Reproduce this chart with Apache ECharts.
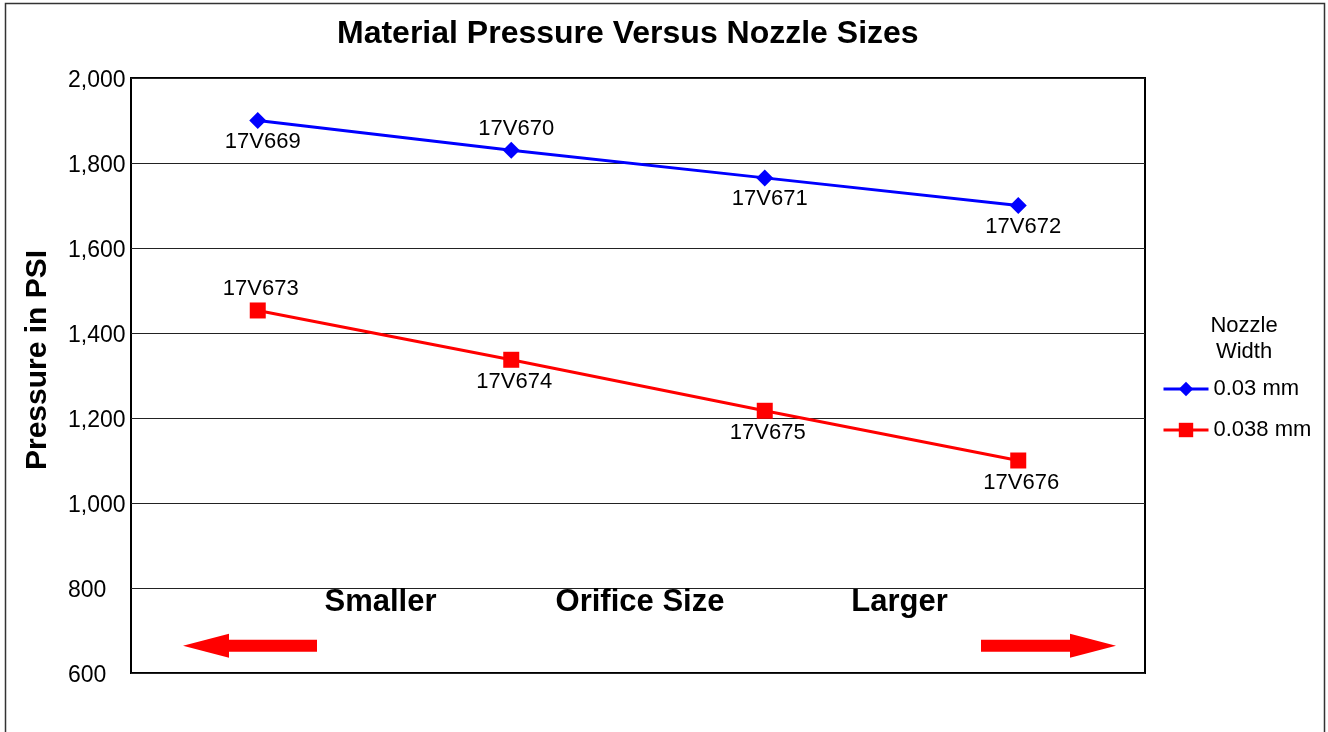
<!DOCTYPE html>
<html>
<head>
<meta charset="utf-8">
<script src="https://cdn.jsdelivr.net/npm/echarts@6/dist/echarts.min.js"></script>
<style>
  html, body { margin: 0; padding: 0; background: #fff; }
  #chart { width: 1328px; height: 732px; }
</style>
</head>
<body>
<div id="chart"></div>
<script>
// Orifice steps along the horizontal axis (smaller -> larger)
const orificeSteps = ['1', '2', '3', '4'];

// 0.03 mm nozzle width
const partsNarrow = ['17V669', '17V670', '17V671', '17V672'];
const pressureNarrow = [1900, 1830, 1765, 1700];

// 0.038 mm nozzle width
const partsWide = ['17V673', '17V674', '17V675', '17V676'];
const pressureWide = [1453, 1337, 1217, 1100];

// Pressure axis (PSI)
const yMin = 600, yMax = 2000, yStep = 200;

const FONT = '"Liberation Sans", Arial, Helvetica, sans-serif';
const BLUE = '#0000ff';
const RED = '#ff0000';

// where each part-number label sits relative to its point
const narrowLabelSide = ['bottom', 'top', 'bottom', 'bottom'];
const wideLabelSide = ['top', 'bottom', 'bottom', 'bottom'];

function withLabels(values, parts, sides) {
  return values.map((v, i) => ({
    value: v,
    label: { position: sides[i], formatter: parts[i] }
  }));
}

const chart = echarts.init(document.getElementById('chart'), null, { renderer: 'canvas' });

const option = {
  animation: false,
  backgroundColor: '#ffffff',
  textStyle: { fontFamily: FONT },
  title: {
    text: 'Material Pressure Versus Nozzle Sizes',
    left: 337,
    top: 18,
    padding: 0,
    textStyle: { fontFamily: FONT, fontSize: 32, fontWeight: 'bold', color: '#000' }
  },
  legend: {
    orient: 'vertical',
    left: 1162,
    top: 378,
    padding: 0,
    itemWidth: 45,
    itemHeight: 18,
    itemGap: 19,
    lineStyle: { width: 3 },
    textStyle: { fontFamily: FONT, fontSize: 22, color: '#000' },
    data: ['0.03 mm', '0.038 mm']
  },
  grid: {
    left: 131,
    top: 78,
    width: 1014,
    height: 595,
    show: true,
    borderColor: '#000',
    borderWidth: 2,
    backgroundColor: 'transparent'
  },
  xAxis: {
    type: 'category',
    data: orificeSteps,
    boundaryGap: true,
    axisLine: { show: false },
    axisTick: { show: false },
    axisLabel: { show: false },
    splitLine: { show: false }
  },
  yAxis: {
    type: 'value',
    min: yMin,
    max: yMax,
    interval: yStep,
    axisLine: { show: false },
    axisTick: { show: false },
    axisLabel: {
      align: 'left',
      verticalAlign: 'top',
      lineHeight: 6,
      margin: 63,
      fontFamily: FONT,
      fontSize: 23,
      color: '#000',
      formatter: v => v.toLocaleString('en-US')
    },
    splitLine: { lineStyle: { color: '#222', width: 1 } }
  },
  series: [
    {
      name: '0.03 mm',
      type: 'line',
      data: withLabels(pressureNarrow, partsNarrow, narrowLabelSide),
      symbol: 'diamond',
      symbolSize: 17,
      z: 4,
      lineStyle: { color: BLUE, width: 3 },
      itemStyle: { color: BLUE },
      label: { show: true, fontFamily: FONT, fontSize: 22, color: '#000', distance: 2, offset: [5, 0] }
    },
    {
      name: '0.038 mm',
      type: 'line',
      data: withLabels(pressureWide, partsWide, wideLabelSide),
      symbol: 'rect',
      symbolSize: 16,
      z: 3,
      lineStyle: { color: RED, width: 3 },
      itemStyle: { color: RED },
      label: { show: true, fontFamily: FONT, fontSize: 22, color: '#000', distance: 3, offset: [3, 0] }
    }
  ]
};

chart.setOption(option);

// Annotations placed from the grid's own scales
const gridRect = chart.getModel().getComponent('grid', 0).coordinateSystem.getRect();
const xPix = i => chart.convertToPixel({ xAxisIndex: 0 }, orificeSteps[i]);
const yPix = v => chart.convertToPixel({ yAxisIndex: 0 }, v);

const textY = yPix(765);
const arrowY = yPix(664);
const shaft = 6, head = 12, headLen = 46;

function arrow(tailX, tipX) {
  const dir = tipX > tailX ? 1 : -1;
  const baseX = tipX - dir * headLen;
  return {
    type: 'polygon',
    shape: {
      points: [
        [tailX, arrowY - shaft], [baseX, arrowY - shaft], [baseX, arrowY - head],
        [tipX, arrowY], [baseX, arrowY + head], [baseX, arrowY + shaft], [tailX, arrowY + shaft]
      ]
    },
    style: { fill: RED },
    z: 5
  };
}

function boldText(str, x, y, size) {
  return {
    type: 'text',
    x: x, y: y,
    style: {
      text: str, fontFamily: FONT, fontSize: size, fontWeight: 'bold',
      fill: '#000', align: 'center', verticalAlign: 'middle'
    },
    z: 5
  };
}

chart.setOption({
  graphic: [
    // outer frame
    {
      type: 'rect',
      shape: { x: 5.5, y: 3.5, width: 1319, height: 760 },
      style: { fill: 'none', stroke: '#333', lineWidth: 1.5 },
      z: 0
    },
    // vertical axis title
    {
      type: 'text',
      x: 38, y: 360,
      rotation: Math.PI / 2,
      style: {
        text: 'Pressure in PSI', fontFamily: FONT, fontSize: 30, fontWeight: 'bold',
        fill: '#000', align: 'center', verticalAlign: 'middle'
      }
    },
    // legend heading
    {
      type: 'text',
      x: 1244, y: 313,
      style: {
        text: 'Nozzle\nWidth', fontFamily: FONT, fontSize: 22, lineHeight: 26,
        fill: '#000', align: 'center', verticalAlign: 'top'
      }
    },
    boldText('Smaller', (xPix(0) + xPix(1)) / 2 - 4, textY, 31),
    boldText('Orifice Size', (xPix(1) + xPix(2)) / 2 + 2, textY, 31),
    boldText('Larger', (xPix(2) + xPix(3)) / 2 + 8, textY, 31),
    arrow(gridRect.x + 186, gridRect.x + 52),
    arrow(gridRect.x + gridRect.width - 164, gridRect.x + gridRect.width - 29)
  ]
});
</script>
</body>
</html>
